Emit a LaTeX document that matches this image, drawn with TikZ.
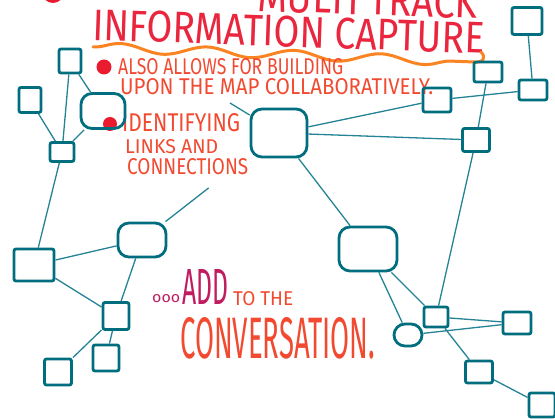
\documentclass[tikz,border=0pt]{standalone}
\usepackage{fontspec}
\newfontfamily\handfont{Fira Sans}
\usetikzlibrary{decorations.pathmorphing}
\definecolor{boxteal}{RGB}{0,110,126}
\definecolor{lineteal}{RGB}{36,132,150}
\definecolor{titlered}{RGB}{234,38,62}
\definecolor{inkred}{RGB}{242,74,48}
\definecolor{waveorange}{RGB}{250,132,34}
\definecolor{dotred}{RGB}{232,28,46}
\definecolor{addpurple}{RGB}{192,28,96}
\newcommand{\hand}[3]{\resizebox{#1pt}{#2pt}{\handfont #3}}

\begin{document}
\begin{tikzpicture}[x=1pt, y=-1pt,
  box/.style 2 args={draw=boxteal, line width=2.8pt, rounded corners=2pt, inner sep=0pt,
    minimum width=#1pt, minimum height=#2pt},
  blob/.style 2 args={box={#1}{#2}, rounded corners=11pt},
  link/.style={draw=lineteal, line width=1.3pt},
  words/.style={inner sep=0pt, anchor=base west}]
  \useasboundingbox (0,0) rectangle (555,419);
  \clip (0,0) rectangle (555,419);
  \fill[white] (0,0) rectangle (555,419);

  \node[words, text=titlered, rotate=-2] (track) at (257,11) {\hand{220}{31}{MULTI TRACK}};
  \fill[dotred] (53,-8) circle (11);
  \node[words, text=titlered, rotate=-2] (title) at (92,40) {\hand{392}{31}{INFORMATION CAPTURE}};
  \draw[waveorange, line width=3pt, line cap=round, decorate,
    decoration={snake, segment length=87pt, amplitude=4.5pt}] (93,47) -- (474,62);
  \draw[waveorange, line width=3pt, line cap=round] (474,62) .. controls (484,63) and (486,57) .. (481,52);

  \fill[dotred] (104,67) circle (7.5);
  \node[words, text=inkred] (also) at (118,75) {\hand{225}{16}{ALSO ALLOWS FOR BUILDING}};
  \node[words, text=inkred] (upon) at (120,95) {\hand{313}{16}{UPON THE MAP COLLABORATIVELY.}};
  \fill[dotred] (110,124) circle (7);
  \node[words, text=inkred] (ident) at (122,132) {\hand{118}{18}{IDENTIFYING}};
  \node[words, text=inkred] (links) at (125,154) {\hand{93}{14}{LINKS AND}};
  \node[words, text=inkred] (conn) at (127,175) {\hand{121}{16}{CONNECTIONS}};

  \node[words, text=addpurple] (dots) at (152,303) {\hand{28}{8}{ooo}};
  \node[words, text=addpurple] (add) at (182,305) {\hand{46}{35}{ADD}};
  \node[words, text=inkred] (tothe) at (233,306) {\hand{60}{14}{TO THE}};
  \node[words, text=inkred] (conv) at (180,359) {\hand{195}{41}{CONVERSATION.}};

  \node[box={22}{24}] (A) at (70,61) {};
  \node[box={22}{25}] (B) at (30,100) {};
  \node[blob={44}{35}] (C) at (103,111) {};
  \node[box={24}{19}] (D) at (62,152) {};
  \node[blob={56}{48}] (E) at (279,133) {};
  \node[box={28}{24}] (F) at (437,100) {};
  \node[box={28}{20}] (G) at (488,72) {};
  \node[box={30}{27}] (H) at (527,21) {};
  \node[box={28}{20}] (I) at (533,90) {};
  \node[box={27}{23}] (J) at (476,140) {};
  \node[blob={48}{34}] (K) at (142,240) {};
  \node[box={40}{32}] (L) at (34,265) {};
  \node[box={26}{27}] (M) at (116,316) {};
  \node[box={27}{26}] (N) at (58,372) {};
  \node[box={26}{26}] (O) at (106,358) {};
  \node[blob={58}{44}] (P) at (368,249) {};
  \node[box={24}{20}] (Q) at (436,317) {};
  \node[blob={28}{22}] (R) at (408,335) {};
  \node[box={28}{22}] (S) at (517,323) {};
  \node[box={27}{22}] (T) at (479,372) {};
  \node[box={26}{24}] (U) at (542,405) {};
  \coordinate (e1) at (230,103);

  \draw[link] (A) -- (D) (A) -- (C) (B) -- (D) (C) -- (D) (D) -- (L);
  \draw[link] (E) -- (e1) (E) -- (F) (E) -- (J) (E) -- (P);
  \draw[link, shorten >=52pt] (K) -- (E);
  \draw[link] (F) -- (I) (G) -- (J) (H) -- (I) (J) -- (Q);
  \draw[link] (K) -- (L) (K) -- (M) (L) -- (M) (M) -- (N) (M) -- (O);
  \draw[link] (P) -- (Q) (P) -- (R) (Q) -- (S) (R) -- (S) (Q) -- (T) (T) -- (U);
\end{tikzpicture}
\end{document}
